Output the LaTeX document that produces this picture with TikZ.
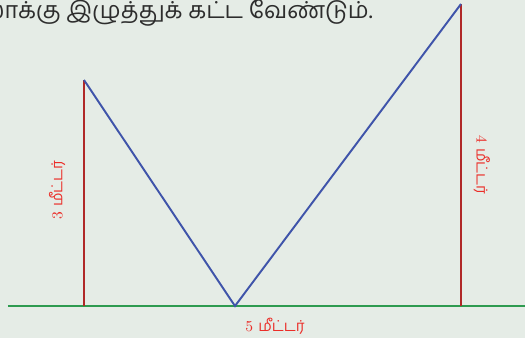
\documentclass[tikz,border=0pt]{standalone}
\usepackage{fontspec}
\usepackage{tikz}
\usetikzlibrary{positioning}
\newfontfamily\tamil[Script=Tamil]{Hind Madurai}
\definecolor{bgpaper}{RGB}{229, 236, 230}
\definecolor{poledark}{RGB}{176, 40, 40}
\definecolor{wireblue}{RGB}{63, 84, 170}
\definecolor{groundgreen}{RGB}{46, 155, 80}
\definecolor{lblred}{RGB}{235, 45, 40}
\definecolor{txtgray}{RGB}{45, 45, 45}

\begin{document}
\begin{tikzpicture}[
    x=0.02cm, y=-0.02cm,
    pole/.style={draw=poledark, line width=1.2pt},
    wire/.style={draw=wireblue, line width=1.1pt},
    ground/.style={draw=groundgreen, line width=1.2pt},
    lbl/.style={font=\fontsize{8.6}{10}\selectfont, text=lblred, inner sep=1pt}
]

% Background
\fill[bgpaper] (0,0) rectangle (525,338);
\useasboundingbox (0,0) rectangle (525,338);
\clip (0,0) rectangle (525,338);

% Points
\coordinate (gl) at (8,306);
\coordinate (gr) at (525,306);
\coordinate (lbase) at (84,306);
\coordinate (ltop) at (84,80);
\coordinate (rbase) at (461,306);
\coordinate (rtop) at (461,4);
\coordinate (stake) at (235,306);

% Top line of text
\node[anchor=east, font=\fontsize{13.3}{16}\tamil, text=txtgray, inner sep=0pt] (txt) at (373,13) {மேலாக்கு இழுத்துக் கட்ட வேண்டும்.};

% Ground
\draw[ground] (gl) -- (gr);

% Poles
\draw[pole] (lbase) -- (ltop);
\draw[pole] (rbase) -- (rtop);

% Wire
\draw[wire] (ltop) -- (stake) -- (rtop);

% Labels
\node[lbl, rotate=90] (hl) at (57,190) {3 {\tamil மீட்டர்}};
\node[lbl, rotate=-90] (hr) at (482,165) {4 {\tamil மீட்டர்}};
\node[lbl] (dist) at (275,326) {5 {\tamil மீட்டர்}};

\end{tikzpicture}
\end{document}
